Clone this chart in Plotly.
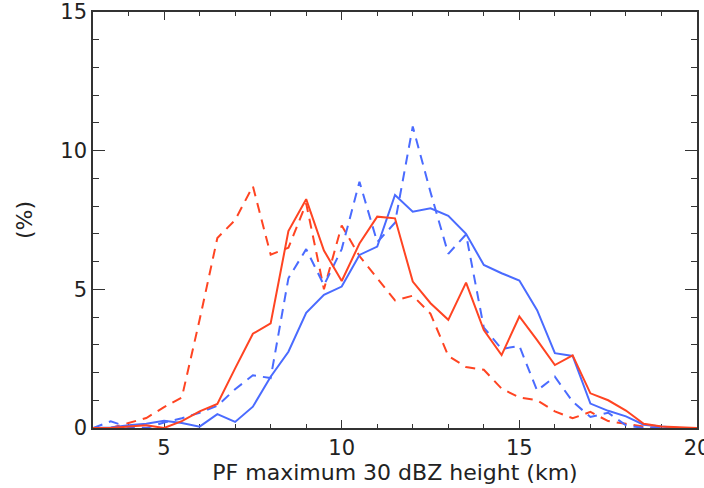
import plotly.graph_objects as go

# Height bins (km), every 0.5 km from 3 to 20
height_km = [3.0, 3.5, 4.0, 4.5, 5.0, 5.5, 6.0, 6.5, 7.0, 7.5, 8.0, 8.5,
             9.0, 9.5, 10.0, 10.5, 11.0, 11.5, 12.0, 12.5, 13.0, 13.5, 14.0, 14.5,
             15.0, 15.5, 16.0, 16.5, 17.0, 17.5, 18.0, 18.5, 19.0, 19.5, 20.0]

# Frequency (%) for each group
red_solid = [0.0, 0.0, 0.05, 0.1, 0.0, 0.25, 0.6, 0.87, 2.15, 3.4, 3.77, 7.1,
             8.25, 6.4, 5.3, 6.65, 7.62, 7.56, 5.28, 4.5, 3.9, 5.24, 3.53, 2.63,
             4.02, 3.17, 2.27, 2.62, 1.25, 1.0, 0.63, 0.15, 0.05, 0.02, 0.0]
red_dashed = [0.0, 0.0, 0.18, 0.36, 0.75, 1.1, 3.9, 6.85, 7.5, 8.72, 6.25, 6.5,
              8.1, 5.0, 7.3, 6.2, 5.4, 4.6, 4.77, 4.12, 2.6, 2.2, 2.1, 1.42,
              1.1, 1.0, 0.6, 0.35, 0.58, 0.25, 0.15, 0.05, 0.0, 0.0, 0.0]
blue_solid = [0.0, 0.02, 0.1, 0.15, 0.26, 0.18, 0.05, 0.5, 0.22, 0.77, 1.85, 2.75,
              4.15, 4.8, 5.1, 6.24, 6.54, 8.4, 7.8, 7.92, 7.65, 7.0, 5.88, 5.58,
              5.32, 4.25, 2.7, 2.6, 0.88, 0.62, 0.42, 0.12, 0.05, 0.0, 0.0]
blue_dashed = [0.0, 0.24, 0.03, 0.0, 0.2, 0.35, 0.55, 0.8, 1.4, 1.9, 1.8, 5.4,
               6.45, 5.15, 6.45, 8.88, 6.7, 7.4, 10.87, 8.5, 6.28, 6.98, 3.62, 2.85,
               2.96, 1.35, 1.85, 0.95, 0.4, 0.55, 0.1, 0.0, 0.0, 0.0, 0.0]

RED = "#FF4422"
BLUE = "#4A6BFF"
DASH = "10px,7px"

fig = go.Figure()
series = [
    (red_dashed, RED, DASH),
    (blue_dashed, BLUE, DASH),
    (blue_solid, BLUE, "solid"),
    (red_solid, RED, "solid"),
]
for vals, color, dash in series:
    fig.add_trace(go.Scatter(
        x=height_km, y=vals, mode="lines",
        line=dict(color=color, width=2, dash=dash),
        showlegend=False, hoverinfo="skip",
    ))

tick_font = dict(family="DejaVu Sans", size=21, color="#222222")
title_font = dict(family="DejaVu Sans", size=22, color="#222222")
axis_common = dict(
    showline=True, linecolor="#333333", linewidth=1.5, mirror="ticks",
    ticks="inside", tickcolor="#333333", tickwidth=1.2,
    showgrid=False, zeroline=False, layer="below traces",
    tickfont=tick_font, automargin=False, ticklabeloverflow="allow",
)

fig.update_xaxes(
    range=[3, 20], tick0=0, dtick=5, ticklen=8,
    minor=dict(dtick=1, tick0=0, ticks="inside", ticklen=4,
               tickcolor="#333333", tickwidth=1.2, showgrid=False),
    title=dict(text="PF maximum 30 dBZ height (km)", font=title_font, standoff=4),
    **axis_common,
)
fig.update_yaxes(
    range=[0, 15], tick0=0, dtick=5, ticklen=12,
    minor=dict(dtick=1, tick0=0, ticks="inside", ticklen=6,
               tickcolor="#333333", tickwidth=1.2, showgrid=False),
    title=dict(text="(%)", font=title_font, standoff=22),
    **axis_common,
)

fig.update_layout(
    width=704, height=488,
    margin=dict(l=93, r=7, t=12, b=60),
    paper_bgcolor="white", plot_bgcolor="white",
    font=tick_font,
)

fig.write_html("out.html")
